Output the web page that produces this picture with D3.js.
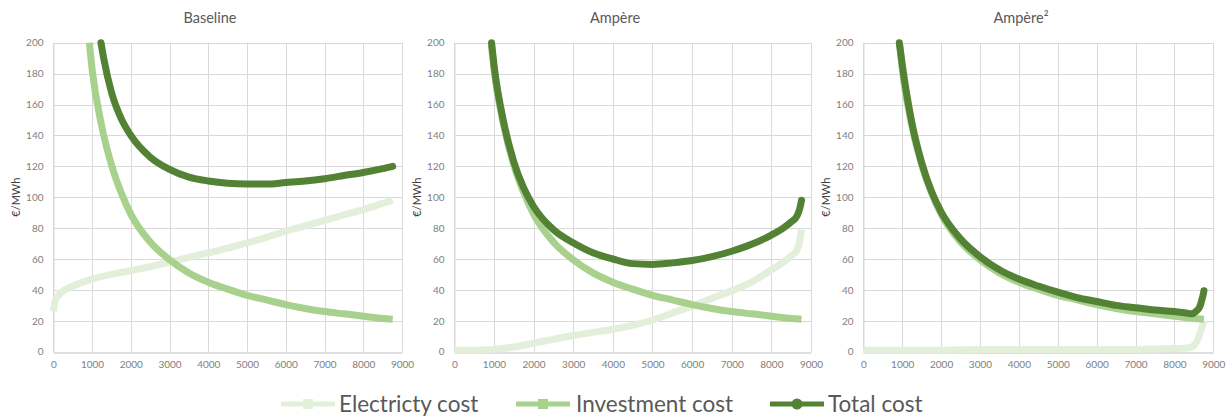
<!DOCTYPE html>
<html>
<head>
<meta charset="utf-8">
<script src="https://cdn.jsdelivr.net/npm/d3@7"></script>
<style>
  html, body { margin: 0; padding: 0; background: #ffffff; }
  svg { display: block; font-family: Lato, "Open Sans", sans-serif; }
</style>
</head>
<body>
<svg id="chart" width="1226" height="416"></svg>
<script>
// ---------------- DATA ----------------
const panelTitles = ["Baseline", "Ampère", "Ampère²"];
const seriesNames = ["Electricty cost", "Investment cost", "Total cost"];
const xTickValues = [0, 1000, 2000, 3000, 4000, 5000, 6000, 7000, 8000, 9000];
const yTickValues = [0, 20, 40, 60, 80, 100, 120, 140, 160, 180, 200];
const yAxisLabel = "€/MWh";

// Baseline
const baseElecHours = [0, 50, 150, 300, 500, 1000, 1500, 2000, 2500, 3000, 3500, 4000, 4500, 5000, 5500, 6000, 6500, 7000, 7500, 8000, 8500, 8760];
const baseElecCost  = [26, 33, 37, 40, 42.5, 47, 50, 52.5, 55, 58, 61, 64, 67, 70.5, 74, 78, 81.5, 85, 88.5, 92, 96, 98];
const baseInvHours  = [930, 1000, 1250, 1500, 1750, 2000, 2500, 3000, 3500, 4000, 4500, 5000, 5500, 6000, 6500, 7000, 7500, 8000, 8500, 8760];
const baseInvCost   = [200, 183, 146, 121, 103, 89, 71, 59.5, 51, 45, 40.5, 36.5, 33.5, 30.5, 28, 26, 24.5, 23, 21.5, 21];
const baseTotHours  = [1230, 1300, 1500, 1750, 2000, 2500, 3000, 3500, 4000, 4500, 5000, 5500, 6000, 6500, 7000, 7500, 8000, 8500, 8760];
const baseTotCost   = [200, 190, 168, 151, 140, 126, 118, 113, 110.5, 109, 108.5, 108.5, 109.5, 110.5, 112, 114, 116, 118.5, 120];

// Ampère
const ampElecHours = [0, 500, 1000, 1500, 2000, 2500, 3000, 3500, 4000, 4500, 5000, 5500, 6000, 6500, 7000, 7500, 8000, 8300, 8500, 8650, 8720, 8760];
const ampElecCost  = [1, 1, 1.5, 3, 5.5, 8, 10.5, 12.5, 14.5, 17, 20.5, 25, 29.5, 34.5, 39.5, 45, 53, 58, 62, 66, 72, 79];
const ampInvHours  = [930, 1000, 1250, 1500, 1750, 2000, 2500, 3000, 3500, 4000, 4500, 5000, 5500, 6000, 6500, 7000, 7500, 8000, 8500, 8760];
const ampInvCost   = [200, 183, 146, 121, 103, 89, 71, 59.5, 51, 45, 40.5, 36.5, 33.5, 30.5, 28, 26, 24.5, 23, 21.5, 21];
const ampTotHours  = [940, 1000, 1250, 1500, 1750, 2000, 2500, 3000, 3500, 4000, 4500, 5000, 5500, 6000, 6500, 7000, 7500, 8000, 8300, 8500, 8650, 8720, 8760];
const ampTotCost   = [200, 186, 148, 123, 106, 94, 79, 70.5, 64, 60, 57, 56.5, 57.5, 59, 61.5, 65, 69.5, 75.5, 80, 84, 88, 93, 98];

// Ampère²
const amp2ElecHours = [0, 1000, 2000, 3000, 4000, 5000, 6000, 7000, 8000, 8400, 8500, 8600, 8700, 8760];
const amp2ElecCost  = [1, 1, 1, 1.5, 1.5, 1.5, 1.5, 1.5, 2, 2.5, 4, 8, 15, 20];
const amp2InvHours  = [930, 1000, 1250, 1500, 1750, 2000, 2500, 3000, 3500, 4000, 4500, 5000, 5500, 6000, 6500, 7000, 7500, 8000, 8500, 8760];
const amp2InvCost   = [200, 183, 146, 121, 103, 89, 71, 59.5, 51, 45, 40.5, 36.5, 33.5, 30.5, 28, 26, 24.5, 23, 21.5, 21];
const amp2TotHours  = [926, 1000, 1250, 1500, 1750, 2000, 2500, 3000, 3500, 4000, 4500, 5000, 5500, 6000, 6500, 7000, 7500, 8000, 8300, 8450, 8550, 8650, 8700, 8740, 8760];
const amp2TotCost   = [200, 186, 148, 122.5, 104, 90.5, 73, 61.5, 53, 47, 42.5, 38.5, 35, 32.5, 30, 28.5, 27, 26, 25, 24.5, 26, 29, 33, 37, 39.5];

// ---------------- LAYOUT / STYLE ----------------
const colors = ["#e2efda", "#a9d18e", "#548235"];
const panels = [
  { title: panelTitles[0], left: 53.3, right: 402, titleX: 210, labelX: 16,
    series: [[baseElecHours, baseElecCost], [baseInvHours, baseInvCost], [baseTotHours, baseTotCost]] },
  { title: panelTitles[1], left: 454.3, right: 811, titleX: 615, labelX: 417,
    series: [[ampElecHours, ampElecCost], [ampInvHours, ampInvCost], [ampTotHours, ampTotCost]] },
  { title: panelTitles[2], left: 863.3, right: 1213.3, titleX: 1021, labelX: 826,
    series: [[amp2ElecHours, amp2ElecCost], [amp2InvHours, amp2InvCost], [amp2TotHours, amp2TotCost]] }
];
const plotTop = 42.7, plotBottom = 351.7;

const svg = d3.select("#chart");

panels.forEach((p, pi) => {
  const x = d3.scaleLinear().domain([0, 9000]).range([p.left, p.right]);
  const y = d3.scaleLinear().domain([0, 200]).range([plotBottom, plotTop]);
  const g = svg.append("g");

  // gridlines
  g.append("g").selectAll("line").data(yTickValues.filter(v => v > 0)).join("line")
    .attr("x1", p.left).attr("x2", p.right)
    .attr("y1", d => Math.round(y(d)) + 0.5).attr("y2", d => Math.round(y(d)) + 0.5)
    .attr("stroke", "#d9d9d9").attr("stroke-width", 1);
  g.append("g").selectAll("line").data(xTickValues).join("line")
    .attr("x1", d => Math.round(x(d)) + 0.5).attr("x2", d => Math.round(x(d)) + 0.5)
    .attr("y1", plotTop).attr("y2", plotBottom)
    .attr("stroke", "#d9d9d9").attr("stroke-width", 1);

  // axes
  const xAxis = d3.axisBottom(x).tickValues(xTickValues).tickSize(0).tickPadding(8).tickFormat(d3.format("d"));
  const yAxis = d3.axisLeft(y).tickValues(yTickValues).tickSize(0).tickPadding(10).tickFormat(d3.format("d"));
  const gx = g.append("g").attr("transform", `translate(0,${Math.round(plotBottom) + 0.5})`).call(xAxis);
  gx.select(".domain").attr("stroke", "#bfbfbf");
  gx.selectAll("text").style("fill", "#808080").style("font-size", "10px").style("font-family", "Lato, sans-serif");
  const gy = g.append("g").attr("transform", `translate(${Math.round(p.left) + 0.5},0)`).call(yAxis);
  gy.select(".domain").attr("stroke", "#d9d9d9");
  gy.selectAll("text").style("fill", "#808080").style("font-size", "10px").style("font-family", "Lato, sans-serif");

  // y label
  g.append("text")
    .attr("transform", `translate(${p.labelX},${(plotTop + plotBottom) / 2}) rotate(-90)`)
    .attr("text-anchor", "middle").attr("dy", "0.35em")
    .attr("fill", "#404040").style("font-size", "11px")
    .text(yAxisLabel);

  // title
  g.append("text").attr("x", p.titleX).attr("y", 23)
    .attr("text-anchor", "middle").attr("fill", "#595959").style("font-size", "14.5px")
    .text(p.title);

  // series
  p.series.forEach((s, si) => {
    const pts = s[0].map((h, i) => [h, s[1][i]]);
    const line = d3.line().x(d => x(d[0])).y(d => y(d[1])).curve(d3.curveMonotoneX);
    g.append("path").datum(pts)
      .attr("d", line)
      .attr("fill", "none")
      .attr("stroke", colors[si])
      .attr("stroke-width", 7)
      .attr("stroke-linejoin", "round")
      .attr("stroke-linecap", si === 2 ? "round" : "butt");
  });
});

// legend
const legendItems = [
  { lineX: 281, textX: 339 },
  { lineX: 516, textX: 576 },
  { lineX: 770, textX: 828 }
];
const legendY = 404;
const lg = svg.append("g");
seriesNames.forEach((name, i) => {
  const li = legendItems[i];
  const item = lg.append("g");
  item.append("line")
    .attr("x1", li.lineX).attr("x2", li.lineX + 54)
    .attr("y1", legendY).attr("y2", legendY)
    .attr("stroke", colors[i]).attr("stroke-width", 5);
  if (i < 2) {
    item.append("rect")
      .attr("x", li.lineX + 27 - 5).attr("y", legendY - 5)
      .attr("width", 10).attr("height", 10)
      .attr("fill", colors[i]);
  } else {
    item.append("circle")
      .attr("cx", li.lineX + 27).attr("cy", legendY).attr("r", 5.5)
      .attr("fill", colors[i]);
  }
  item.append("text")
    .attr("x", li.textX).attr("y", legendY).attr("dy", "0.35em")
    .attr("fill", "#595959").style("font-size", "22.5px")
    .text(name);
});
</script>
</body>
</html>
